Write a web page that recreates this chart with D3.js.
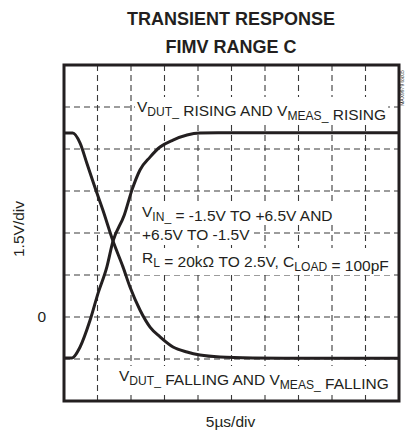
<!DOCTYPE html>
<html>
<head>
<meta charset="utf-8">
<script src="https://cdn.jsdelivr.net/npm/d3@7"></script>
<style>
  html, body { margin: 0; padding: 0; background: #fff; }
  svg { display: block; }
  text { font-family: "Liberation Sans", Arial, sans-serif; fill: #231f20; }
</style>
</head>
<body>
<svg id="chart" width="405" height="435"></svg>
<script>
// ---- data (time in µs, voltage in V) ----
const titleLines = ["TRANSIENT RESPONSE", "FIMV RANGE C"];
const xLabel = "5µs/div";
const yLabel = "1.5V/div";
const yTickValues = [0];
const xDomain = [0, 50];     // 10 div × 5µs
const yDomain = [-3, 9];     // 8 div × 1.5V

const risingT = [0, 1.2, 2.4, 3.9, 5.1, 6.4, 7.3, 9.0, 10.15, 11.34, 12.84, 14.33, 16.27, 18.36, 20.3, 23.0, 30, 40, 50];
const risingV = [-1.46, -1.46, -1.07, -0.11, 0.86, 1.79, 2.70, 3.64, 4.54, 5.25, 5.71, 6.07, 6.32, 6.50, 6.57, 6.58, 6.58, 6.58, 6.58];

const fallingT = [0, 1.3, 2.4, 3.4, 4.6, 5.8, 7.3, 8.8, 9.85, 11.34, 12.84, 14.33, 16.27, 18.36, 20.3, 23.3, 28.2, 35, 42, 50];
const fallingV = [6.57, 6.57, 6.21, 5.50, 4.64, 3.82, 2.72, 1.79, 1.07, 0.25, -0.36, -0.71, -1.07, -1.25, -1.36, -1.43, -1.46, -1.47, -1.47, -1.47];

// ---- layout ----
const svg = d3.select("#chart");
const L = 64, R = 399, T = 65, B = 401;
const x = d3.scaleLinear().domain(xDomain).range([L, R]);
const y = d3.scaleLinear().domain(yDomain).range([B, T]);

// grid
const xGrid = d3.range(xDomain[0] + 5, xDomain[1], 5);
const yGrid = d3.range(yDomain[0] + 1.5, yDomain[1] - 0.01, 1.5);
const grid = svg.append("g").attr("stroke", "#3a3a3a").attr("stroke-width", 1.1).attr("stroke-dasharray", "6,4");
grid.selectAll("line.v").data(xGrid).join("line").attr("class", "v")
  .attr("x1", d => x(d)).attr("x2", d => x(d)).attr("y1", T).attr("y2", B);
grid.selectAll("line.h").data(yGrid).join("line").attr("class", "h")
  .attr("x1", L).attr("x2", R).attr("y1", d => y(d)).attr("y2", d => y(d));

// annotation helper: white background box behind text
function label(parts, px, py, size, anchor) {
  const g = svg.append("g");
  const t = g.append("text").attr("x", px).attr("y", py)
    .attr("font-size", size).attr("text-anchor", anchor || "start");
  parts.forEach(p => {
    if (p.sub) {
      t.append("tspan").attr("dy", 4).attr("font-size", size * 0.78).text(p.sub);
      t.append("tspan").attr("dy", -4).text("");
    } else {
      t.append("tspan").text(p.t);
    }
  });
  const bb = t.node().getBBox();
  g.insert("rect", "text").attr("x", bb.x - 2).attr("y", bb.y - 1)
    .attr("width", bb.width + 4).attr("height", bb.height + 2).attr("fill", "#fff");
  return t;
}

// curves
const line = d3.line().x(d => x(d[0])).y(d => y(d[1])).curve(d3.curveMonotoneX);
const rising = d3.zip(risingT, risingV);
const falling = d3.zip(fallingT, fallingV);

label([{t: "V"}, {sub: "DUT_"}, {t: " RISING AND V"}, {sub: "MEAS_"}, {t: " RISING"}], 137, 112, 15.5);
label([{t: "V"}, {sub: "IN_"}, {t: " = -1.5V TO +6.5V AND"}], 142, 217, 15.5);
label([{t: "+6.5V TO -1.5V"}], 142, 240, 15.5);
label([{t: "R"}, {sub: "L"}, {t: " = 20kΩ TO 2.5V, C"}, {sub: "LOAD"}, {t: " = 100pF"}], 142, 263, 15.5);
label([{t: "V"}, {sub: "DUT_"}, {t: " FALLING AND V"}, {sub: "MEAS_"}, {t: " FALLING"}], 119, 381, 15.5);

svg.append("path").datum(rising).attr("d", line)
  .attr("fill", "none").attr("stroke", "#231f20").attr("stroke-width", 3).attr("stroke-linejoin", "round");
svg.append("path").datum(falling).attr("d", line)
  .attr("fill", "none").attr("stroke", "#231f20").attr("stroke-width", 3).attr("stroke-linejoin", "round");

// frame
svg.append("rect").attr("x", L).attr("y", T).attr("width", R - L).attr("height", B - T)
  .attr("fill", "none").attr("stroke", "#231f20").attr("stroke-width", 3);

// y axis tick label "0"
const yAxis = d3.axisLeft(y).tickValues(yTickValues).tickSize(0).tickPadding(18).tickFormat(d3.format("d"));
const ya = svg.append("g").attr("transform", `translate(${L},0)`).call(yAxis);
ya.select(".domain").remove();
ya.selectAll("text").attr("font-size", 15.5).attr("font-family", null).attr("fill", "#231f20");

// titles
svg.append("text").attr("x", 231).attr("y", 25).attr("text-anchor", "middle")
  .attr("font-size", 18).attr("font-weight", "bold").text(titleLines[0]);
svg.append("text").attr("x", 231).attr("y", 53).attr("text-anchor", "middle")
  .attr("font-size", 18).attr("font-weight", "bold").text(titleLines[1]);

// axis titles
svg.append("text").attr("x", 230.5).attr("y", 427).attr("text-anchor", "middle")
  .attr("font-size", 15.5).text(xLabel);
svg.append("text").attr("transform", `translate(24,${(T + B) / 2 - 4}) rotate(-90)`)
  .attr("text-anchor", "middle").attr("font-size", 15.5).text(yLabel);

// tiny figure id at right edge
svg.append("text").attr("transform", "translate(404,88) rotate(-90)")
  .attr("text-anchor", "middle").attr("font-size", 5).attr("fill", "#777").text("MAX9979 toc05");
</script>
</body>
</html>
